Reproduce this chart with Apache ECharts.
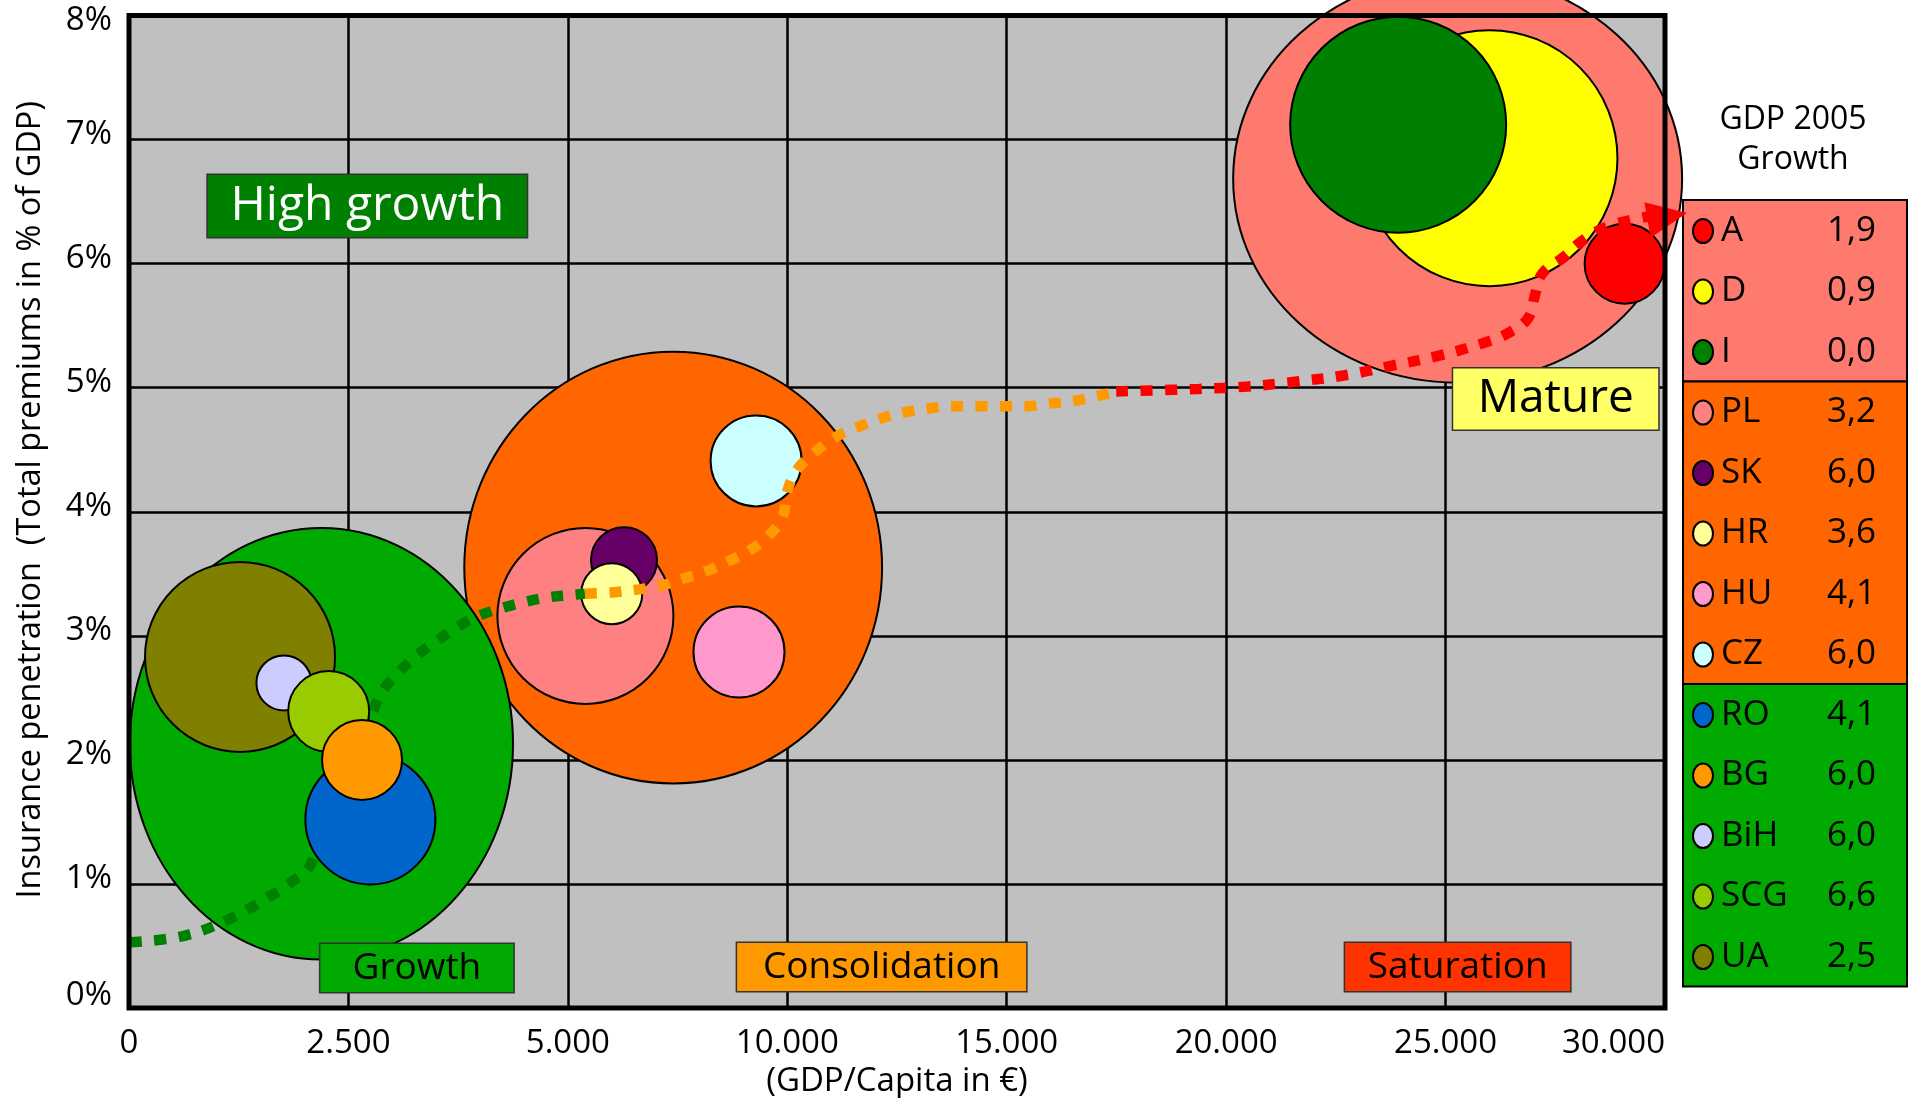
<!DOCTYPE html>
<html>
<head>
<meta charset="utf-8">
<title>Insurance penetration vs GDP/Capita</title>
<script src="https://cdn.jsdelivr.net/npm/echarts@6/dist/echarts.min.js"></script>
<style>
  html, body { margin: 0; padding: 0; background: #fff; }
  #chart { width: 1914px; height: 1098px; }
</style>
</head>
<body>
<div id="chart"></div>
<script>
// x axis is piecewise: 0..5.000 in steps of 2.500, then 5.000..30.000 in steps of 5.000
const xTickLabels = ['0', '2.500', '5.000', '10.000', '15.000', '20.000', '25.000', '30.000']

// countries, in legend order
const countries = ['A', 'D', 'I', 'PL', 'SK', 'HR', 'HU', 'CZ', 'RO', 'BG', 'BiH', 'SCG', 'UA']
const gdpGrowth = [1.9, 0.9, 0.0, 3.2, 6.0, 3.6, 4.1, 6.0, 4.1, 6.0, 6.0, 6.6, 2.5]
const gdpPerCapita = [29080, 26000, 23920, 5400, 6280, 6000, 8900, 9290, 2750, 2655, 1765, 2275, 1265]
const penetration = [6.00, 6.85, 7.12, 3.16, 3.61, 3.34, 2.87, 4.41, 1.52, 2.00, 2.62, 2.39, 2.83]
const bubbleSize = [8.0, 25.6, 21.6, 17.6, 6.6, 6.1, 9.1, 9.1, 13.0, 8.0, 5.5, 8.1, 19.0]
const countryGroup = [0, 0, 0, 1, 1, 1, 1, 1, 2, 2, 2, 2, 2]
// back to front
const drawOrder = ['D', 'I', 'A', 'PL', 'SK', 'HR', 'HU', 'CZ', 'UA', 'BiH', 'SCG', 'RO', 'BG']

// market stage zones (0 mature, 1 consolidation, 2 growth): extent of each ellipse
const zoneGdpRange = [[20160, 30390], [3820, 12160], [10, 4375]]
const zonePenRange = [[5.04, 8.33], [1.81, 5.29], [0.39, 3.87]]

// development path
const trendGreenGdp = [10, 615, 1120, 1630, 1860, 2065, 2780, 2895, 3090, 3295, 3510, 3740, 3980, 4230, 4490, 4775, 5120, 5390]
const trendGreenPen = [0.53, 0.58, 0.71, 0.91, 1.02, 1.15, 2.39, 2.56, 2.72, 2.85, 2.96, 3.07, 3.16, 3.22, 3.27, 3.31, 3.33, 3.34]
const trendOrangeGdp = [5390, 6005, 6530, 7080, 7625, 8150, 8650, 9150, 9585, 9905, 9995, 10225, 10635, 11090, 11590, 12115, 12640, 13185, 13735, 14305, 14850, 15420, 15920, 16490, 17035, 17495]
const trendOrangePen = [3.34, 3.35, 3.37, 3.40, 3.46, 3.52, 3.60, 3.69, 3.81, 3.97, 4.16, 4.34, 4.48, 4.60, 4.68, 4.75, 4.80, 4.83, 4.85, 4.85, 4.85, 4.85, 4.87, 4.89, 4.93, 4.97]
const trendRedGdp = [17495, 19385, 20500, 21615, 22710, 23805, 24875, 25950, 26425, 26880, 27040, 27200, 27680, 28135, 28685, 29205, 29615]
const trendRedPen = [4.97, 4.99, 5.01, 5.05, 5.10, 5.18, 5.26, 5.37, 5.44, 5.56, 5.75, 5.92, 6.05, 6.19, 6.30, 6.35, 6.38]
const arrowHead = [30050, 6.38]

// annotations
const noteText = ['High growth', 'Growth', 'Consolidation', 'Saturation', 'Mature']
const noteGdp = [2715, 3280, 12150, 25275, 27510]
const notePen = [6.465, 0.322, 0.330, 0.330, 4.909]

// styles
const FONT = '"Open Sans", "Liberation Sans", sans-serif'
const BUBBLE_PX = 10
const ROW_H = 60.5
const zoneColors = ['#FF7A6E', '#FF6600', '#00AA00']
const sectionRows = [3, 5, 5]
const countryColors = ['#FF0000', '#FFFF00', '#008000', '#FF8080', '#660066', '#FFFF99', '#FF99CC', '#CCFFFF',
  '#0066CC', '#FF9900', '#CCCCFF', '#99CC00', '#808000']
const noteStyles = [
  { bg: '#008000', color: '#fff', size: 48, w: 319, h: 62 },
  { bg: '#00AA00', color: '#000', size: 37, w: 193, h: 48 },
  { bg: '#FF9900', color: '#000', size: 37, w: 289, h: 48 },
  { bg: '#FF3300', color: '#000', size: 37, w: 225, h: 48 },
  { bg: '#FFFF66', color: '#000', size: 46, w: 205, h: 61 }
]
const GRID = { left: 129, top: 15.5, width: 1536, height: 992.5 }
const TICK_FONT = 33

const gdpPos = v => v <= 5000 ? v / 2500 : 2 + (v - 5000) / 5000
const fmt = v => v.toFixed(1).replace('.', ',')
const idx = code => countries.indexOf(code)
const pairs = (xs, ys) => xs.map((x, i) => [gdpPos(x), ys[i]])

const chart = echarts.init(document.getElementById('chart'))

const zoneSeries = {
  type: 'custom',
  z: 1,
  silent: true,
  clip: false,
  encode: { x: [0, 1], y: [2, 3] },
  data: zoneGdpRange.map((r, i) => [gdpPos(r[0]), gdpPos(r[1]), zonePenRange[i][0], zonePenRange[i][1], i]),
  renderItem: (params, api) => {
    const p1 = api.coord([api.value(0), api.value(3)])
    const p2 = api.coord([api.value(1), api.value(2)])
    return {
      type: 'ellipse',
      shape: {
        cx: (p1[0] + p2[0]) / 2,
        cy: (p1[1] + p2[1]) / 2,
        rx: Math.abs(p2[0] - p1[0]) / 2,
        ry: Math.abs(p2[1] - p1[1]) / 2
      },
      style: { fill: zoneColors[api.value(4)], stroke: '#000', lineWidth: 2 }
    }
  }
}

const countrySeries = [0, 1, 2].map(g => ({
  type: 'scatter',
  z: g === 2 ? 4 : 2,
  clip: false,
  silent: true,
  symbol: 'circle',
  symbolSize: val => val[2] * BUBBLE_PX,
  itemStyle: { borderColor: '#000', borderWidth: 2, opacity: 1 },
  data: drawOrder.filter(c => countryGroup[idx(c)] === g).map(c => {
    const i = idx(c)
    return {
      value: [gdpPos(gdpPerCapita[i]), penetration[i], bubbleSize[i]],
      itemStyle: { color: countryColors[i] }
    }
  })
}))

function trendLine (xs, ys, color, z) {
  return {
    type: 'line',
    z: z,
    clip: false,
    silent: true,
    smooth: 0.4,
    symbol: 'none',
    showSymbol: false,
    lineStyle: { color: color, width: 10.5, type: [12, 12.5], cap: 'butt' },
    data: pairs(xs, ys)
  }
}

const arrowSeries = {
  type: 'scatter',
  z: 5,
  clip: false,
  silent: true,
  symbol: 'triangle',
  symbolSize: [36, 40],
  symbolRotate: -80,
  itemStyle: { color: '#FF0000', opacity: 1 },
  data: [[gdpPos(arrowHead[0]), arrowHead[1]]]
}

const noteSeries = {
  type: 'scatter',
  z: 6,
  clip: false,
  silent: true,
  symbolSize: 1,
  itemStyle: { color: 'rgba(0,0,0,0)', opacity: 1 },
  data: noteText.map((t, i) => {
    const s = noteStyles[i]
    return {
      value: [gdpPos(noteGdp[i]), notePen[i]],
      label: {
        show: true,
        position: 'inside',
        formatter: t,
        width: s.w,
        height: s.h,
        lineHeight: s.h,
        align: 'center',
        verticalAlign: 'middle',
        backgroundColor: s.bg,
        borderColor: '#333',
        borderWidth: 1.5,
        color: s.color,
        opacity: 1,
        fontSize: s.size,
        fontFamily: FONT
      }
    }
  })
}

// legend panel on the right
const legendEls = [{
  type: 'text',
  x: 1793,
  y: 100,
  style: { text: 'GDP 2005\nGrowth', font: '32px ' + FONT, fill: '#000', align: 'center', verticalAlign: 'top', lineHeight: 40 }
}]
let sectionTop = 200
sectionRows.forEach((n, s) => {
  legendEls.push({
    type: 'rect',
    shape: { x: 1683, y: sectionTop, width: 224, height: n * ROW_H },
    style: { fill: zoneColors[s], stroke: '#000', lineWidth: 2 }
  })
  sectionTop += n * ROW_H
})
countries.forEach((c, i) => {
  const cy = 200 + i * ROW_H + 31
  legendEls.push({
    type: 'ellipse',
    shape: { cx: 1703, cy: cy, rx: 10, ry: 12 },
    style: { fill: countryColors[i], stroke: '#000', lineWidth: 2 }
  })
  legendEls.push({
    type: 'text', x: 1721, y: cy,
    style: { text: c, font: '35px ' + FONT, fill: '#000', align: 'left', verticalAlign: 'middle' }
  })
  legendEls.push({
    type: 'text', x: 1876, y: cy,
    style: { text: fmt(gdpGrowth[i]), font: '35px ' + FONT, fill: '#000', align: 'right', verticalAlign: 'middle' }
  })
})
// plot frame drawn above the bubbles
legendEls.push({
  type: 'rect',
  z: 100,
  shape: { x: GRID.left, y: GRID.top, width: GRID.width, height: GRID.height },
  style: { fill: 'none', stroke: '#000', lineWidth: 5 }
})

const tickRich = { fontSize: TICK_FONT, fontFamily: FONT, color: '#000' }

const option = {
  animation: false,
  backgroundColor: '#fff',
  grid: {
    left: GRID.left,
    top: GRID.top,
    width: GRID.width,
    height: GRID.height,
    show: true,
    backgroundColor: '#C0C0C0',
    borderWidth: 0,
    containLabel: false,
    outerBoundsMode: 'none'
  },
  xAxis: {
    type: 'value',
    min: 0,
    max: 7,
    interval: 1,
    axisLine: { show: false },
    axisTick: { show: false },
    axisLabel: {
      formatter: v => xTickLabels[v],
      fontSize: TICK_FONT,
      fontFamily: FONT,
      color: '#000',
      margin: 19,
      alignMaxLabel: 'right'
    },
    splitLine: { show: true, lineStyle: { color: '#000', width: 2.5 } },
    name: '(GDP/Capita in €)',
    nameLocation: 'middle',
    nameGap: 56,
    nameTextStyle: { fontSize: 33, fontFamily: FONT, color: '#000' }
  },
  yAxis: {
    type: 'value',
    min: 0,
    max: 8,
    interval: 1,
    axisLine: { show: false },
    axisTick: { show: false },
    axisLabel: {
      formatter: v => v === 0 ? '{lo|0%}' : v === 8 ? '{hi|8%}' : '{mid|' + v + '%}',
      fontSize: TICK_FONT,
      fontFamily: FONT,
      color: '#000',
      margin: 17,
      rich: {
        lo: Object.assign({ padding: [0, 0, 24, 0] }, tickRich),
        mid: Object.assign({ padding: [0, 0, 10, 0] }, tickRich),
        hi: Object.assign({ padding: [10, 0, 0, 0] }, tickRich)
      }
    },
    splitLine: { show: true, lineStyle: { color: '#000', width: 2.5 } },
    name: 'Insurance penetration  (Total premiums in % of GDP)',
    nameLocation: 'middle',
    nameRotate: 90,
    nameGap: 82,
    nameTextStyle: { fontSize: 32.5, fontFamily: FONT, color: '#000', padding: [0, 0, 0, 24] }
  },
  graphic: { elements: legendEls },
  series: [
    zoneSeries,
    countrySeries[0],
    countrySeries[1],
    trendLine(trendGreenGdp, trendGreenPen, '#008000', 3),
    countrySeries[2],
    trendLine(trendOrangeGdp, trendOrangePen, '#FF9900', 5),
    trendLine(trendRedGdp, trendRedPen, '#FF0000', 5),
    arrowSeries,
    noteSeries
  ]
}

chart.setOption(option)
</script>
</body>
</html>
